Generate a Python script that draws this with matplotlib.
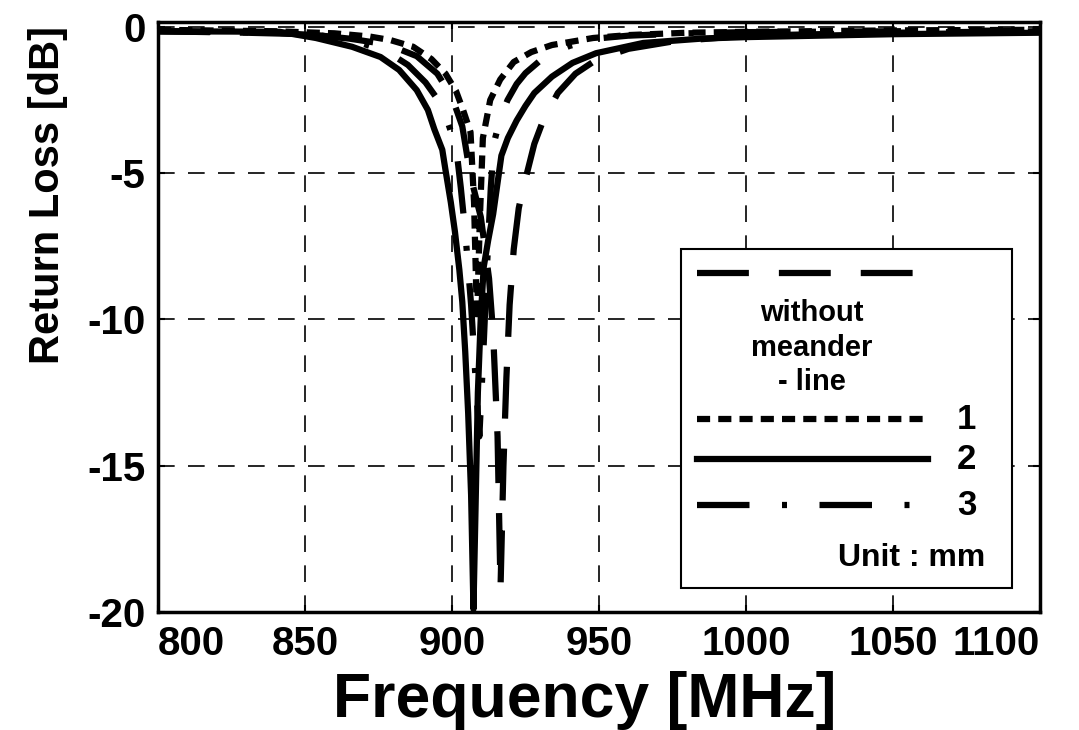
import matplotlib
matplotlib.use('Agg')
import matplotlib.pyplot as plt
from matplotlib.lines import Line2D
from matplotlib.patches import Rectangle

plt.rcParams['font.family'] = ['Liberation Sans', 'DejaVu Sans']
plt.rcParams['font.weight'] = 'bold'
plt.rcParams['axes.unicode_minus'] = False

# values: frequency [MHz] / return loss [dB]
f_without = [800, 830, 850, 865, 878, 888, 895, 900, 903.5, 906.3, 909.8, 912.6, 914, 915.5, 916.5,
             917.5, 918.5, 919.6, 921, 922.7, 924, 925.5, 928, 931, 936, 942, 949, 960, 975, 1000, 1050, 1100]
rl_without = [-0.15, -0.2, -0.25, -0.4, -0.6, -1.0, -1.6, -2.4, -3.4, -5.1, -6.5, -8.6, -10.5, -14.0, -19.2,
              -15.0, -12.0, -9.5, -7.6, -6.2, -5.6, -5.0, -4.0, -3.2, -2.26, -1.6, -1.13, -0.75, -0.5, -0.3, -0.2, -0.15]

f_1 = [800, 840, 860, 872, 879, 886.8, 893, 897.8, 901.4, 903.8, 906.3, 907.5, 908.5, 909.5, 910.5,
       913, 916.4, 921, 927, 934, 941, 948, 960, 980, 1000, 1050, 1100]
rl_1 = [-0.1, -0.15, -0.22, -0.33, -0.45, -0.68, -1.1, -1.6, -2.2, -2.85, -3.6, -6.0, -10.0, -6.5, -3.8,
        -2.5, -1.8, -1.2, -0.86, -0.62, -0.5, -0.38, -0.28, -0.2, -0.17, -0.12, -0.1]

f_2 = [800, 825, 841.5, 853.7, 866, 875.7, 882, 888, 891.8, 894, 896.7, 897.8, 899.6, 901, 902.5, 903.5,
       904.5, 905.5, 906.5, 907.3, 908, 908.8, 909.8, 910.8, 912.3, 914, 916.8, 919, 922, 925, 928, 934,
       941, 949, 965, 985, 1000, 1050, 1100]
rl_2 = [-0.15, -0.16, -0.17, -0.38, -0.68, -1.03, -1.47, -2.16, -2.84, -3.5, -4.2, -4.9, -6.0, -7.0, -8.3, -9.4,
        -11.1, -13.2, -16.0, -19.9, -16.5, -12.5, -9.9, -8.2, -7.3, -6.4, -4.4, -3.8, -3.2, -2.7, -2.26, -1.7,
        -1.23, -0.9, -0.55, -0.4, -0.35, -0.25, -0.2]

f_3 = [800, 840, 856, 866, 878, 885, 891, 896.7, 901.4, 903, 904.5, 906.5, 908, 909.3, 910.5, 912, 913.2,
       914.3, 916.5, 918.9, 922, 925, 930, 935, 940, 949, 960, 980, 1000, 1050, 1100]
rl_3 = [-0.15, -0.2, -0.3, -0.45, -0.85, -1.3, -1.9, -2.7, -4.1, -5.5, -7.0, -9.5, -12.0, -14.0, -11.5, -8.0, -5.5,
        -3.95, -3.1, -2.5, -1.95, -1.58, -1.15, -0.85, -0.65, -0.4, -0.3, -0.22, -0.18, -0.15, -0.12]

x_ticks = [800, 850, 900, 950, 1000, 1050, 1100]
y_ticks = [-20, -15, -10, -5, 0]

lw = 4.5
ls_without = (0, (8.3, 4.8))
ls_1 = (0, (2.1, 1.3))
ls_2 = '-'
ls_3 = (0, (8.4, 5.2, 0.8, 5.2))

fig = plt.figure(figsize=(10.79, 7.30), dpi=100)
ax = fig.add_axes([0.1464, 0.1616, 0.8175, 0.8084])

ax.plot(f_without, rl_without, color='black', lw=lw, linestyle=ls_without)
ax.plot(f_1, rl_1, color='black', lw=lw, linestyle=ls_1)
ax.plot(f_2, rl_2, color='black', lw=lw, linestyle=ls_2)
ax.plot(f_3, rl_3, color='black', lw=lw, linestyle=ls_3)

ax.set_xlim(800, 1100)
ax.set_ylim(-20, 0.17)
ax.set_xticks(x_ticks)
ax.set_yticks(y_ticks)
ax.grid(True, color='black', lw=1.2, linestyle=(0, (10, 8)))
ax.tick_params(direction='in', length=5, width=1.5, top=True, right=True,
               labelsize=29, pad=9)
for s in ax.spines.values():
    s.set_linewidth(2.5)

# end labels sit inside the axis span, as in the original
xl = ax.get_xticklabels()
xl[0].set_horizontalalignment('left')
xl[-1].set_horizontalalignment('right')

ax.set_xlabel('Frequency [MHz]', fontsize=45, fontweight='bold')
ax.xaxis.set_label_coords(0.484, -0.1)
ax.set_ylabel('Return Loss [dB]', fontsize=30, fontweight='bold', va='center')
ax.yaxis.set_label_coords(-0.125, 0.707)

# legend box drawn by hand (first label sits under its line sample)
tr = ax.transAxes
ax.add_patch(Rectangle((0.593, 0.041), 0.375, 0.574, transform=tr,
                       facecolor='white', edgecolor='black', lw=1.5, zorder=5))
ax.add_line(Line2D([0.611, 0.866], [0.575, 0.575], transform=tr, color='black',
                   lw=lw, linestyle=ls_without, zorder=6))
ax.text(0.741, 0.507, 'without', transform=tr, ha='center', va='center', fontsize=21, zorder=6)
ax.text(0.741, 0.447, 'meander', transform=tr, ha='center', va='center', fontsize=21, zorder=6)
ax.text(0.741, 0.390, '- line', transform=tr, ha='center', va='center', fontsize=21, zorder=6)
rows = [(0.327, ls_1, '1'), (0.259, ls_2, '2'), (0.181, ls_3, '3')]
for yy, ls, lab in rows:
    ax.add_line(Line2D([0.611, 0.873], [yy, yy], transform=tr, color='black',
                       lw=lw, linestyle=ls, zorder=6))
    ax.text(0.917, yy, lab, transform=tr, ha='center', va='center', fontsize=25, zorder=6)
ax.text(0.938, 0.092, 'Unit : mm', transform=tr, ha='right', va='center', fontsize=23, zorder=6)

fig.savefig('out.png', dpi=100)
